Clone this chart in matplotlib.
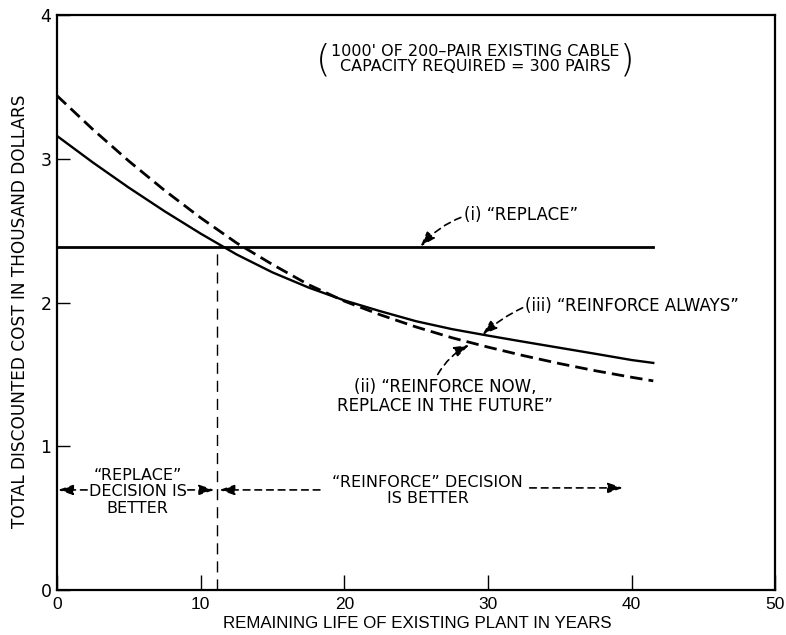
import matplotlib
matplotlib.use('Agg')
import matplotlib.pyplot as plt

# Remaining life (years) at which costs were read
years = [0, 2.5, 5, 7.5, 10, 12.5, 15, 17.5, 20, 22.5, 25, 27.5, 30, 32.5, 35, 37.5, 40, 41.5]

# (i) replace now - flat cost, thousand dollars
replace_cost = 2.39
# (iii) reinforce always
reinforce_always = [3.16, 2.975, 2.80, 2.635, 2.48, 2.335, 2.21, 2.105, 2.015, 1.94, 1.87, 1.815,
                    1.77, 1.727, 1.685, 1.643, 1.60, 1.58]
# (ii) reinforce now, replace in the future
reinforce_now = [3.44, 3.205, 2.985, 2.78, 2.59, 2.415, 2.265, 2.125, 2.01, 1.915, 1.83, 1.755,
                 1.69, 1.63, 1.575, 1.525, 1.48, 1.455]

# break-even life
breakeven = 11.15

xticks = [0, 10, 20, 30, 40, 50]
yticks = [0, 1, 2, 3, 4]

plt.rcParams['font.family'] = ['DejaVu Sans']
narrow = ['Liberation Sans Narrow', 'Liberation Sans', 'DejaVu Sans']

fig = plt.figure(figsize=(7.86, 6.35), dpi=100)
ax = fig.add_axes([0.0725, 0.071, 0.914, 0.905])

ax.plot([years[0], years[-1]], [replace_cost, replace_cost], color='black', lw=2)
ax.plot(years, reinforce_always, color='black', lw=1.7)
ax.plot(years, reinforce_now, color='black', lw=2, linestyle=(0, (4.5, 2.2)))
ax.plot([breakeven, breakeven], [0, replace_cost], color='black', lw=1, linestyle=(0, (8, 5)))

ax.set_xlim(0, 50)
ax.set_ylim(0, 4)
ax.set_xticks(xticks)
ax.set_yticks(yticks)
ax.tick_params(axis='x', direction='in', length=11, width=1, pad=5, labelsize=12.5)
ax.tick_params(axis='y', direction='in', length=9, width=1, pad=4, labelsize=12.5)
for lab in ax.get_xticklabels():
    lab.set_family(narrow)
for s in ax.spines.values():
    s.set_linewidth(1.6)

ax.set_xlabel('REMAINING LIFE OF EXISTING PLANT IN YEARS', fontsize=12.2, family=narrow)
ax.xaxis.set_label_coords(0.502, -0.046)
ax.set_ylabel('TOTAL DISCOUNTED COST IN THOUSAND DOLLARS', fontsize=12.2, va='center')
ax.yaxis.set_label_coords(-0.0515, 0.485)

dash_arrow = dict(arrowstyle='-|>,head_length=0.65,head_width=0.22', color='black', lw=1.2,
                  linestyle=(0, (4, 3)), mutation_scale=14, shrinkA=0, shrinkB=0)

# curve labels
ax.annotate('(i) \u201cREPLACE\u201d', xy=(25.3, replace_cost), xytext=(28.3, 2.61),
            fontsize=12, va='center', ha='left',
            arrowprops=dict(dash_arrow, connectionstyle='arc3,rad=0.3'))
ax.annotate('(iii) \u201cREINFORCE ALWAYS\u201d', xy=(29.6, 1.775), xytext=(32.6, 1.976),
            fontsize=12, va='center', ha='left',
            arrowprops=dict(dash_arrow, connectionstyle='arc3,rad=0.3'))
ax.text(27.0, 1.345, '(ii) \u201cREINFORCE NOW,\nREPLACE IN THE FUTURE\u201d',
        fontsize=12, va='center', ha='center', linespacing=1.05)
ax.annotate('', xy=(28.7, 1.705), xytext=(26.5, 1.50),
            arrowprops=dict(dash_arrow, connectionstyle='arc3,rad=-0.15'))

# case note in the corner
ax.text(29.1, 3.695, '1000\' OF 200\u2013PAIR EXISTING CABLE\nCAPACITY REQUIRED = 300 PAIRS',
        fontsize=11.5, ha='center', va='center', linespacing=1.05)
ax.text(18.5, 3.69, '(', fontsize=27, ha='center', va='center', fontweight='light')
ax.text(39.7, 3.69, ')', fontsize=27, ha='center', va='center', fontweight='light')

# decision regions
ax.text(5.6, 0.682, '\u201cREPLACE\u201d\nDECISION IS\nBETTER', fontsize=11.5,
        ha='center', va='center', linespacing=1.1)
ax.annotate('', xy=(0.07, 0.696), xytext=(2.1, 0.696), arrowprops=dash_arrow)
ax.annotate('', xy=(10.95, 0.696), xytext=(9.1, 0.696), arrowprops=dash_arrow)
ax.annotate('', xy=(11.3, 0.696), xytext=(18.3, 0.696), arrowprops=dash_arrow)
ax.text(25.8, 0.69, '\u201cREINFORCE\u201d DECISION\nIS BETTER', fontsize=11.5,
        ha='center', va='center', linespacing=1.1)
ax.annotate('', xy=(39.4, 0.71), xytext=(32.9, 0.71), arrowprops=dash_arrow)

fig.savefig('out.png', dpi=100)
